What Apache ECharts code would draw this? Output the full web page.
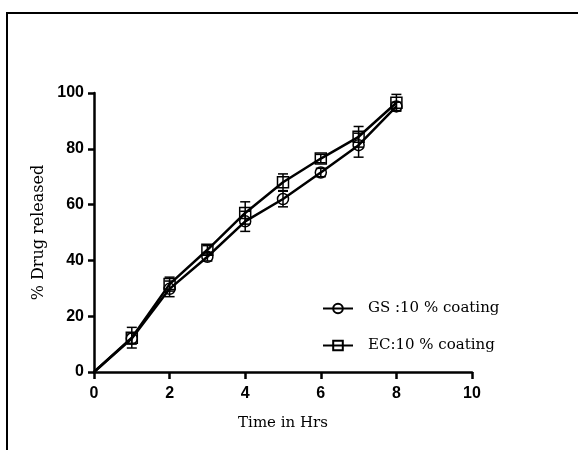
<!DOCTYPE html>
<html>
<head>
<meta charset="utf-8">
<script src="https://cdn.jsdelivr.net/npm/echarts@6/dist/echarts.min.js"></script>
<style>
  html, body { margin: 0; padding: 0; background: #fff; }
  #main { width: 578px; height: 450px; }
</style>
</head>
<body>
<div id="main"></div>
<script>
    // time points (hrs) and % drug released, mean and error
    var hours = [0, 1, 2, 3, 4, 5, 6, 7, 8];
    var gsMean = [0, 12, 29.8, 41.3, 54, 62, 71.5, 81.3, 95.2];
    var gsErr = [0, 2, 2.8, 1.5, 3.6, 2.8, 1.5, 4.3, 1.5];
    var ecMean = [0, 12.3, 31.5, 43.8, 57, 68, 76.5, 84.3, 96.5];
    var ecErr = [0, 3.7, 2.5, 1.5, 4, 3, 1.5, 3.7, 3];
    var seriesNames = ['GS :10 % coating', 'EC:10 % coating'];

    var serif = 'DejaVu Serif';
    var sans = 'Liberation Sans';

    var chartDom = document.getElementById('main');
    var myChart = echarts.init(chartDom);

    // no marker drawn at the origin point
    function pairs(mean) {
        return hours.map(function (h, i) {
            var item = { value: [h, mean[i]] };
            if (h === 0) item.symbol = 'none';
            return item;
        });
    }
    function errData(mean, err) {
        return hours.map(function (h, i) { return [h, mean[i] - err[i], mean[i] + err[i]]; });
    }
    function renderErr(params, api) {
        if (api.value(1) === api.value(2)) return;
        var x = api.value(0);
        var lo = api.coord([x, api.value(1)]);
        var hi = api.coord([x, api.value(2)]);
        var w = 5;
        var st = { stroke: '#000', lineWidth: 1.5 };
        return {
            type: 'group',
            children: [
                { type: 'line', shape: { x1: lo[0], y1: lo[1], x2: hi[0], y2: hi[1] }, style: st },
                { type: 'line', shape: { x1: lo[0] - w, y1: lo[1], x2: lo[0] + w, y2: lo[1] }, style: st },
                { type: 'line', shape: { x1: hi[0] - w, y1: hi[1], x2: hi[0] + w, y2: hi[1] }, style: st }
            ]
        };
    }

    var option = {
        animation: false,
        backgroundColor: '#fff',
        graphic: [
            { type: 'line', shape: { x1: 7, y1: 13, x2: 578, y2: 13 }, style: { stroke: '#000', lineWidth: 2 } },
            { type: 'line', shape: { x1: 7, y1: 12, x2: 7, y2: 450 }, style: { stroke: '#000', lineWidth: 2 } }
        ],
        grid: { left: 94, right: 106, top: 93, bottom: 78 },
        legend: {
            orient: 'vertical',
            left: 317,
            top: 296,
            itemWidth: 30,
            itemHeight: 12,
            itemGap: 22,
            data: seriesNames,
            textStyle: { fontFamily: serif, fontSize: 15, color: '#000', padding: [0, 0, 0, 10] }
        },
        xAxis: {
            type: 'value',
            min: 0,
            max: 10,
            interval: 2,
            name: 'Time in Hrs',
            nameLocation: 'middle',
            nameGap: 44,
            nameTextStyle: { fontFamily: serif, fontSize: 15, color: '#000' },
            axisLine: { lineStyle: { color: '#000', width: 2.5 } },
            axisTick: { length: 7, lineStyle: { color: '#000', width: 2.5 } },
            axisLabel: { margin: 14, fontFamily: sans, fontWeight: 'bold', fontSize: 16, color: '#000' },
            splitLine: { show: false }
        },
        yAxis: {
            type: 'value',
            min: 0,
            max: 100,
            interval: 20,
            name: '% Drug released',
            nameLocation: 'middle',
            nameGap: 47,
            nameTextStyle: { fontFamily: serif, fontSize: 16, color: '#000' },
            axisLine: { show: true, lineStyle: { color: '#000', width: 2.5 } },
            axisTick: { show: true, length: 6, lineStyle: { color: '#000', width: 2.5 } },
            axisLabel: { margin: 10, fontFamily: sans, fontWeight: 'bold', fontSize: 16, color: '#000' },
            splitLine: { show: false }
        },
        series: [
            {
                name: seriesNames[0],
                type: 'line',
                data: pairs(gsMean),
                symbol: 'circle',
                symbolSize: 11,
                lineStyle: { color: '#000', width: 2.5 },
                itemStyle: { color: 'rgba(255,255,255,0)', borderColor: '#000', borderWidth: 1.5 },
                z: 3
            },
            {
                name: seriesNames[1],
                type: 'line',
                data: pairs(ecMean),
                symbol: 'rect',
                symbolSize: 11,
                lineStyle: { color: '#000', width: 2.5 },
                itemStyle: { color: 'rgba(255,255,255,0)', borderColor: '#000', borderWidth: 1.5 },
                z: 3
            },
            {
                type: 'custom',
                renderItem: renderErr,
                data: errData(gsMean, gsErr),
                z: 2
            },
            {
                type: 'custom',
                renderItem: renderErr,
                data: errData(ecMean, ecErr),
                z: 2
            }
        ]
    };

    myChart.setOption(option);
</script>
</body>
</html>
